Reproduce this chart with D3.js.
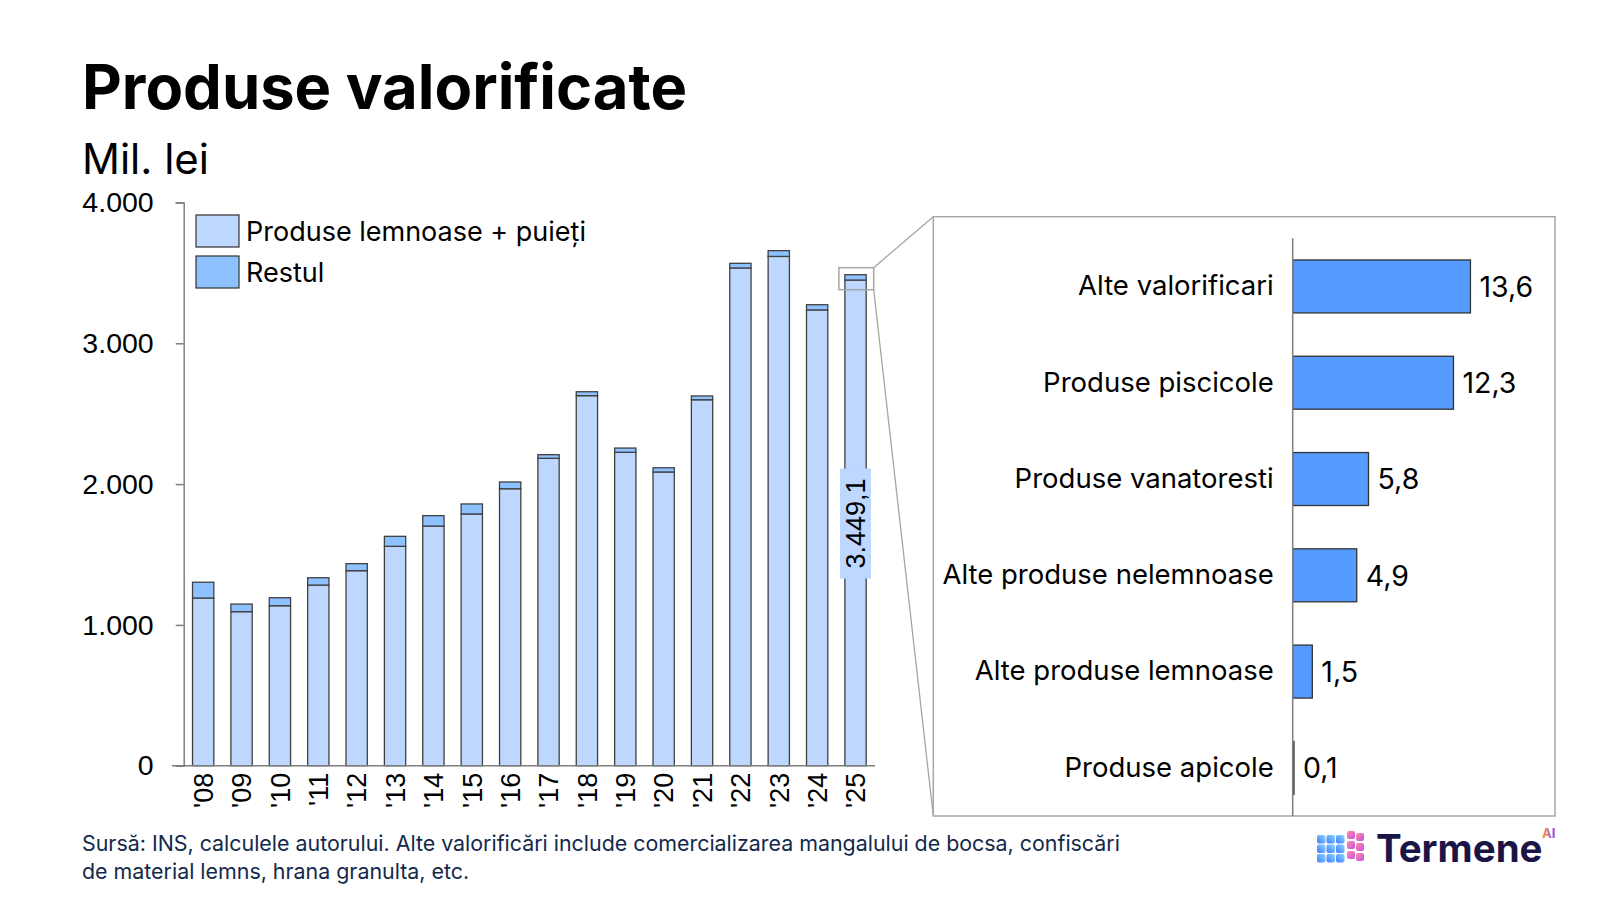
<!DOCTYPE html>
<html><head><meta charset="utf-8">
<script src="https://cdn.jsdelivr.net/npm/d3@7"></script>
<style>
html,body{margin:0;padding:0;background:#fff;}
svg{display:block;}
</style></head>
<body>
<svg id="c" width="1600" height="900"></svg>
<script>
// ---- data ----
const years = ["'08","'09","'10","'11","'12","'13","'14","'15","'16","'17","'18","'19","'20","'21","'22","'23","'24","'25"];
const lemnoase = [1191,1094,1136,1283,1385,1558,1702,1788,1967,2183,2628,2226,2086,2599,3535,3617,3237,3449.1];
const restul   = [112,54,57,52,50,71,74,71,48,26,28,30,30,27,33,41,37,38.2];
const yTicks = [0,1000,2000,3000,4000];
const seriesNames = ["Produse lemnoase + puieți","Restul"];
const detailCats = ["Alte valorificari","Produse piscicole","Produse vanatoresti","Alte produse nelemnoase","Alte produse lemnoase","Produse apicole"];
const detailVals = [13.6,12.3,5.8,4.9,1.5,0.1];

const C_LEMN = "#BDD7FF", C_REST = "#8EC1FF", C_DET = "#569BFF";
const fmtNum = d3.formatLocale({decimal:",",thousands:".",grouping:[3],currency:["",""]});
const fmtInt = fmtNum.format(",.0f");
const fmt1 = fmtNum.format(",.1f");

const svg = d3.select("#c");
const FONT = "Inter, Roboto, 'Liberation Sans', sans-serif";
const FONT2 = "'Liberation Sans', Arial, sans-serif";

// titles
svg.append("text").attr("x",82).attr("y",109).attr("font-family",FONT).attr("font-weight",700)
  .attr("font-size",61.5).attr("fill","#000").text("Produse valorificate");
svg.append("text").attr("x",82).attr("y",174).attr("font-family",FONT).attr("font-weight",400)
  .attr("font-size",42).attr("fill","#000").text("Mil. lei");

// ---- left stacked chart ----
const x = d3.scaleBand().domain(years).range([183.7,875]).paddingInner(0.445).paddingOuter(0.23);
const y = d3.scaleLinear().domain([0,4000]).range([765.7,202.5]);

const yAxis = svg.append("g").attr("transform","translate(183.7,0)")
  .call(d3.axisLeft(y).tickValues(yTicks).tickSize(8).tickPadding(22).tickFormat(d=>fmtInt(d)));
yAxis.select(".domain").attr("stroke","#7f7f7f").attr("stroke-width",1.5);
yAxis.selectAll(".tick line").attr("stroke","#7f7f7f").attr("stroke-width",1.5);
yAxis.selectAll("text").attr("font-family",FONT2).attr("font-size",28.5).attr("fill","#000");

const rows = years.map((yr,i)=>({yr, a:lemnoase[i], b:restul[i]}));
const g = svg.append("g");
g.selectAll("rect.l").data(rows).join("rect").attr("class","l")
  .attr("x",d=>x(d.yr)).attr("width",x.bandwidth())
  .attr("y",d=>y(d.a)).attr("height",d=>y(0)-y(d.a))
  .attr("fill",C_LEMN).attr("stroke","#404040").attr("stroke-width",1.3);
g.selectAll("rect.r").data(rows).join("rect").attr("class","r")
  .attr("x",d=>x(d.yr)).attr("width",x.bandwidth())
  .attr("y",d=>y(d.a+d.b)).attr("height",d=>y(d.a)-y(d.a+d.b))
  .attr("fill",C_REST).attr("stroke","#404040").attr("stroke-width",1.3);

const xAxis = svg.append("g").attr("transform","translate(0,765.7)")
  .call(d3.axisBottom(x).tickSize(0).tickPadding(10));
xAxis.select(".domain").attr("stroke","#7f7f7f").attr("stroke-width",1.5)
  .attr("d","M172,0H875");
xAxis.selectAll("text").attr("font-family",FONT2).attr("font-size",27).attr("fill","#000")
  .attr("transform","rotate(-90)").attr("text-anchor","end").attr("dx","-7").attr("dy","0.36em")
  .attr("x",0).attr("y",0);

// value label on last bar
const last = rows[rows.length-1];
const lx = x(last.yr)+x.bandwidth()/2;
const lbl = svg.append("g").attr("transform",`translate(${lx},${y(1720)}) rotate(-90)`);
lbl.append("rect").attr("x",-55).attr("y",-15.5).attr("width",110).attr("height",31).attr("fill","#BDD7FF");
lbl.append("text").attr("text-anchor","middle").attr("dy","0.36em").attr("font-family",FONT2)
  .attr("font-size",27).attr("fill","#000").text(fmt1(last.a));

// legend
const leg = svg.append("g");
seriesNames.forEach((n,i)=>{
  leg.append("rect").attr("x",196).attr("y",215+i*41).attr("width",43).attr("height",32)
    .attr("fill",i?C_REST:C_LEMN).attr("stroke","#404040").attr("stroke-width",1.3);
  leg.append("text").attr("x",246).attr("y",241+i*41).attr("font-family",FONT).attr("font-size",27)
    .attr("fill","#000").text(n);
});

// highlight + connectors
const hx0 = x(last.yr)-6, hx1 = x(last.yr)+x.bandwidth()+7.5;
const hy0 = y(last.a+last.b)-7, hy1 = hy0+22;
const BX0 = 933.3, BX1 = 1555, BY0 = 216.7, BY1 = 816;
svg.append("rect").attr("x",hx0).attr("y",hy0).attr("width",hx1-hx0).attr("height",hy1-hy0)
  .attr("fill","none").attr("stroke","#a6a6a6").attr("stroke-width",1.5);
svg.append("line").attr("x1",hx1).attr("y1",hy0).attr("x2",BX0).attr("y2",BY0).attr("stroke","#a6a6a6").attr("stroke-width",1.3);
svg.append("line").attr("x1",hx1).attr("y1",hy1).attr("x2",BX0).attr("y2",BY1).attr("stroke","#a6a6a6").attr("stroke-width",1.3);
svg.append("rect").attr("x",BX0).attr("y",BY0).attr("width",BX1-BX0).attr("height",BY1-BY0)
  .attr("fill","#fff").attr("stroke","#a6a6a6").attr("stroke-width",1.5);

// ---- right detail bars ----
const xd = d3.scaleLinear().domain([0,1]).range([1292.7,1292.7+13.07]);
const yd = d3.scaleBand().domain(detailCats).range([238.3,816]).paddingInner(0.45).paddingOuter(0.225);
const det = detailCats.map((c,i)=>({c,v:detailVals[i]}));
svg.append("g").selectAll("rect").data(det).join("rect")
  .attr("x",xd(0)).attr("y",d=>yd(d.c)).attr("width",d=>xd(d.v)-xd(0)).attr("height",yd.bandwidth())
  .attr("fill",C_DET).attr("stroke","#333").attr("stroke-width",1.3);
svg.append("g").selectAll("text").data(det).join("text")
  .attr("x",d=>xd(d.v)+9).attr("y",d=>yd(d.c)+yd.bandwidth()/2).attr("dy","0.36em")
  .attr("font-family",FONT).attr("font-size",28.5).attr("fill","#000").text(d=>fmt1(d.v));
const yda = svg.append("g").attr("transform",`translate(${xd(0)},0)`)
  .call(d3.axisLeft(yd).tickSize(0).tickPadding(19));
yda.select(".domain").attr("stroke","#7f7f7f").attr("stroke-width",1.5).attr("d","M0,238.3V816");
yda.selectAll("text").attr("font-family",FONT).attr("font-size",27.5).attr("fill","#000");

// footer
const foot = ["Sursă: INS, calculele autorului. Alte valorificări include comercializarea mangalului de bocsa, confiscări",
              "de material lemns, hrana granulta, etc."];
foot.forEach((t,i)=>svg.append("text").attr("x",82).attr("y",851+i*28).attr("font-family",FONT)
  .attr("font-size",21.4).attr("fill","#13294b").text(t));

// logo
const defs = svg.append("defs");
const gb = defs.append("linearGradient").attr("id","lgb").attr("x1","0").attr("x2","1").attr("y1","1").attr("y2","0");
gb.append("stop").attr("offset","0").attr("stop-color","#3f7dff");
gb.append("stop").attr("offset","1").attr("stop-color","#8fd6ff");
const gp = defs.append("linearGradient").attr("id","lgp").attr("x1","0").attr("x2","1").attr("y1","0").attr("y2","1");
gp.append("stop").attr("offset","0").attr("stop-color","#ff8fa0");
gp.append("stop").attr("offset","1").attr("stop-color","#c84fe8");
const ga = defs.append("linearGradient").attr("id","lga").attr("x1","0").attr("x2","1");
ga.append("stop").attr("offset","0").attr("stop-color","#ff9a2e");
ga.append("stop").attr("offset","1").attr("stop-color","#8a3cff");
const logo = svg.append("g").attr("transform","translate(1317,828)");
const cellsB = [], cellsP = [];
for(let r=0;r<3;r++)for(let c=0;c<3;c++)cellsB.push([c*9.5,7+r*9.5]);
for(let r=0;r<3;r++)for(let c=0;c<2;c++)cellsP.push([30+c*9,3+r*10+c*2]);
logo.selectAll("rect.b").data(cellsB).join("rect").attr("class","b").attr("x",d=>d[0]).attr("y",d=>d[1])
  .attr("width",8.5).attr("height",8.5).attr("rx",2).attr("fill","url(#lgb)");
logo.selectAll("rect.p").data(cellsP).join("rect").attr("class","p").attr("x",d=>d[0]).attr("y",d=>d[1])
  .attr("width",8).attr("height",8).attr("rx",2).attr("fill","url(#lgp)");
svg.append("text").attr("x",1376).attr("y",862).attr("font-family",FONT).attr("font-weight",700)
  .attr("font-size",38.5).attr("fill","#1b1446").text("Termene");
svg.append("text").attr("x",1542).attr("y",838).attr("font-family",FONT).attr("font-weight",700)
  .attr("font-size",13).attr("fill","url(#lga)").text("AI");
</script>
</body></html>
